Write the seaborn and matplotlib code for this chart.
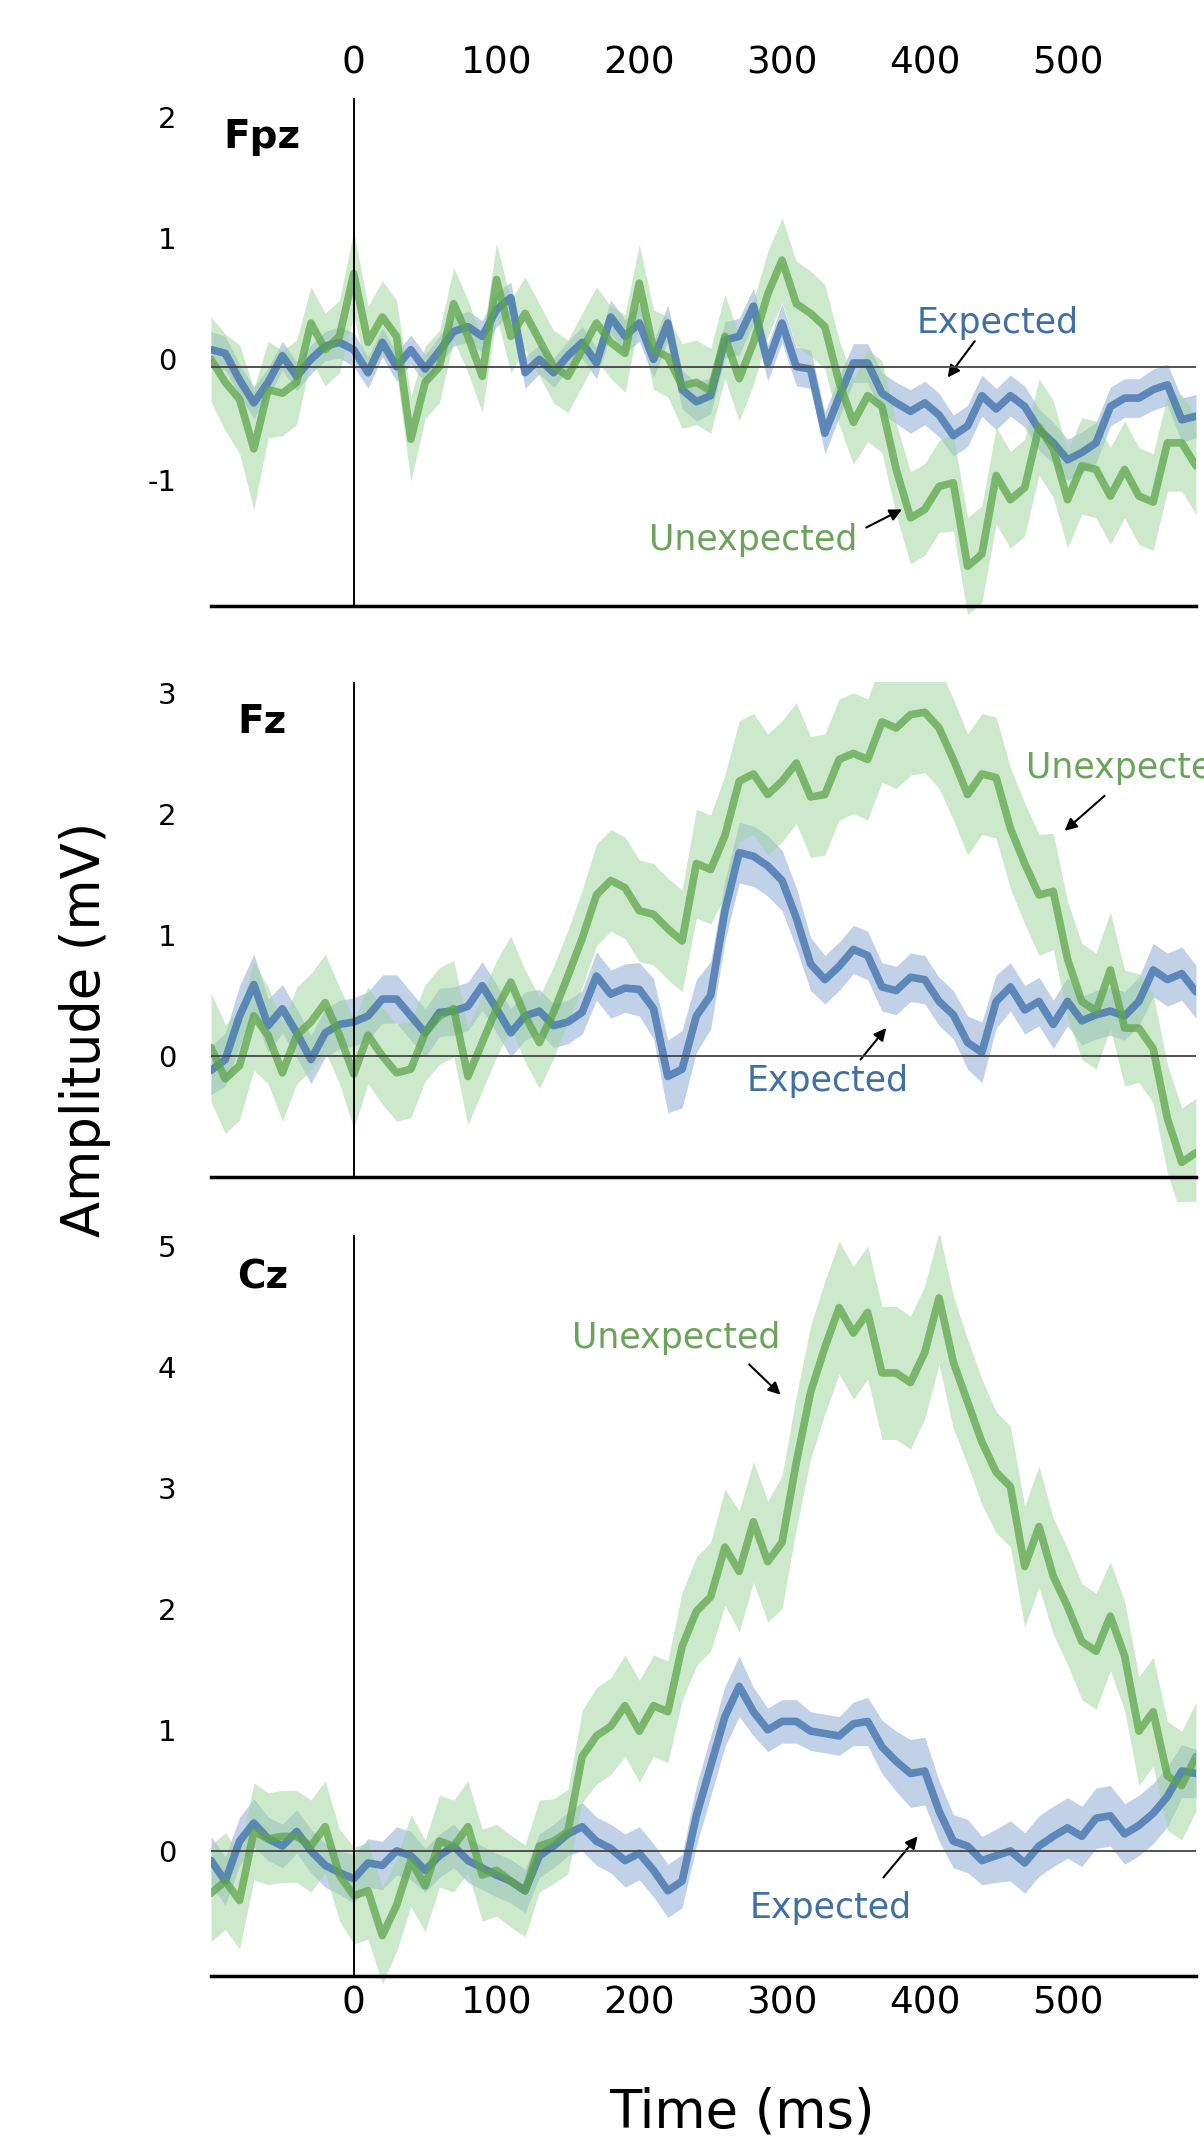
import matplotlib
matplotlib.use("Agg")
import matplotlib.pyplot as plt
import seaborn as sns

# time axis (ms)
TIME = list(range(-100, 600, 10))

# mean amplitude (mV) per electrode and condition
FPZ_EXPECTED = [
    0.14, 0.11, -0.11, -0.30, -0.13, 0.09, -0.08, 0.06, 0.17, 0.20,
    0.14, -0.05, 0.20, 0.00, 0.14, -0.02, 0.13, 0.29, 0.33, 0.25,
    0.47, 0.57, -0.05, 0.06, -0.05, 0.09, 0.20, 0.03, 0.41, 0.25,
    0.36, 0.06, 0.36, -0.19, -0.29, -0.24, 0.22, 0.25, 0.50, 0.03,
    0.36, 0.00, -0.02, -0.55, -0.25, 0.03, 0.03, -0.22, -0.30, -0.37,
    -0.30, -0.40, -0.57, -0.49, -0.24, -0.35, -0.24, -0.33, -0.52, -0.63,
    -0.77, -0.71, -0.63, -0.33, -0.26, -0.26, -0.19, -0.15, -0.44, -0.41,
]
FPZ_UNEXPECTED = [
    0.06, -0.13, -0.27, -0.68, -0.19, -0.22, -0.13, 0.36, 0.14, 0.25,
    0.77, 0.20, 0.41, 0.25, -0.60, -0.13, 0.00, 0.52, 0.25, -0.08,
    0.72, 0.25, 0.44, 0.22, 0.00, -0.08, 0.14, 0.36, 0.20, 0.11,
    0.69, 0.14, 0.08, -0.16, -0.13, -0.20, 0.25, -0.10, 0.20, 0.60,
    0.88, 0.52, 0.44, 0.33, -0.13, -0.46, -0.24, -0.33, -0.85, -1.25,
    -1.18, -0.99, -0.96, -1.65, -1.55, -0.90, -1.10, -1.00, -0.50, -0.68,
    -1.10, -0.82, -0.85, -1.07, -0.85, -1.07, -1.12, -0.63, -0.63, -0.82,
]
FZ_EXPECTED = [
    -0.12, -0.03, 0.33, 0.59, 0.25, 0.39, 0.19, -0.03, 0.19, 0.26,
    0.28, 0.33, 0.47, 0.47, 0.33, 0.19, 0.36, 0.37, 0.41, 0.58,
    0.39, 0.19, 0.33, 0.37, 0.25, 0.28, 0.36, 0.66, 0.51, 0.56,
    0.55, 0.39, -0.17, -0.11, 0.33, 0.50, 1.20, 1.68, 1.65, 1.57,
    1.45, 1.14, 0.76, 0.63, 0.74, 0.88, 0.83, 0.57, 0.54, 0.65,
    0.63, 0.45, 0.34, 0.11, 0.03, 0.45, 0.57, 0.38, 0.45, 0.26,
    0.45, 0.29, 0.34, 0.37, 0.33, 0.45, 0.71, 0.63, 0.68, 0.53,
]
FZ_UNEXPECTED = [
    0.07, -0.19, -0.08, 0.33, 0.17, -0.14, 0.17, 0.28, 0.44, 0.17,
    -0.15, 0.17, 0.00, -0.14, -0.11, 0.19, 0.33, 0.39, -0.17, 0.11,
    0.39, 0.61, 0.33, 0.11, 0.36, 0.66, 0.97, 1.33, 1.45, 1.39,
    1.20, 1.17, 1.05, 0.95, 1.59, 1.54, 1.82, 2.27, 2.33, 2.16,
    2.27, 2.42, 2.14, 2.16, 2.45, 2.50, 2.45, 2.76, 2.71, 2.82,
    2.84, 2.71, 2.45, 2.16, 2.33, 2.30, 1.88, 1.59, 1.33, 1.36,
    0.80, 0.45, 0.37, 0.71, 0.23, 0.23, 0.06, -0.52, -0.88, -0.80,
]
CZ_EXPECTED = [
    -0.08, -0.25, 0.08, 0.23, 0.10, 0.04, 0.16, 0.00, -0.12, -0.18,
    -0.23, -0.10, -0.12, 0.00, -0.04, -0.16, -0.04, 0.04, -0.08, -0.14,
    -0.20, -0.25, -0.33, -0.04, 0.04, 0.14, 0.20, 0.08, 0.02, -0.08,
    -0.02, -0.16, -0.33, -0.25, 0.29, 0.70, 1.11, 1.36, 1.15, 1.00,
    1.07, 1.07, 0.99, 0.97, 0.95, 1.05, 1.07, 0.86, 0.74, 0.64,
    0.66, 0.33, 0.08, 0.04, -0.08, -0.04, 0.00, -0.10, 0.04, 0.12,
    0.19, 0.12, 0.27, 0.29, 0.14, 0.21, 0.31, 0.45, 0.66, 0.64,
]
CZ_UNEXPECTED = [
    -0.35, -0.25, -0.41, 0.16, 0.10, 0.12, 0.12, 0.04, 0.20, -0.20,
    -0.37, -0.33, -0.70, -0.45, -0.08, -0.29, 0.08, 0.04, 0.20, -0.20,
    -0.16, -0.25, -0.33, 0.04, 0.08, 0.16, 0.78, 0.95, 1.03, 1.20,
    0.99, 1.20, 1.15, 1.69, 1.98, 2.10, 2.51, 2.31, 2.72, 2.39,
    2.55, 3.21, 3.79, 4.16, 4.49, 4.28, 4.45, 3.95, 3.95, 3.87,
    4.12, 4.57, 4.04, 3.71, 3.38, 3.13, 3.01, 2.35, 2.68, 2.27,
    2.02, 1.73, 1.65, 1.94, 1.61, 0.99, 1.15, 0.62, 0.54, 0.78,
]

# half-width of the shaded error band (mV)
FPZ_EXPECTED_ERR = [
    0.15, 0.14, 0.13, 0.13, 0.12, 0.12, 0.12, 0.12, 0.12, 0.13,
    0.14, 0.13, 0.12, 0.12, 0.12, 0.12, 0.12, 0.12, 0.13, 0.13,
    0.14, 0.13, 0.13, 0.12, 0.12, 0.12, 0.13, 0.13, 0.14, 0.14,
    0.15, 0.15, 0.15, 0.16, 0.16, 0.15, 0.15, 0.15, 0.15, 0.15,
    0.16, 0.16, 0.16, 0.17, 0.17, 0.16, 0.16, 0.17, 0.17, 0.18,
    0.18, 0.18, 0.17, 0.17, 0.17, 0.17, 0.17, 0.17, 0.17, 0.17,
    0.17, 0.17, 0.17, 0.16, 0.16, 0.16, 0.17, 0.17, 0.18, 0.18,
]
FPZ_UNEXPECTED_ERR = [
    0.35, 0.40, 0.45, 0.50, 0.40, 0.35, 0.35, 0.30, 0.30, 0.30,
    0.35, 0.30, 0.30, 0.30, 0.35, 0.30, 0.30, 0.30, 0.30, 0.30,
    0.30, 0.30, 0.30, 0.30, 0.30, 0.30, 0.30, 0.30, 0.30, 0.32,
    0.32, 0.33, 0.33, 0.35, 0.35, 0.35, 0.35, 0.35, 0.35, 0.35,
    0.35, 0.35, 0.35, 0.35, 0.35, 0.35, 0.38, 0.38, 0.38, 0.38,
    0.38, 0.38, 0.40, 0.40, 0.40, 0.40, 0.40, 0.40, 0.40, 0.40,
    0.40, 0.40, 0.40, 0.40, 0.40, 0.40, 0.40, 0.40, 0.40, 0.40,
]
FZ_EXPECTED_ERR = [
    0.20, 0.22, 0.25, 0.25, 0.22, 0.20, 0.20, 0.20, 0.20, 0.20,
    0.20, 0.20, 0.20, 0.20, 0.20, 0.20, 0.20, 0.20, 0.20, 0.20,
    0.20, 0.20, 0.20, 0.18, 0.18, 0.18, 0.18, 0.20, 0.20, 0.20,
    0.22, 0.25, 0.30, 0.32, 0.30, 0.28, 0.25, 0.25, 0.25, 0.25,
    0.25, 0.25, 0.22, 0.20, 0.20, 0.20, 0.20, 0.20, 0.20, 0.20,
    0.20, 0.20, 0.20, 0.22, 0.25, 0.22, 0.20, 0.20, 0.20, 0.20,
    0.20, 0.20, 0.20, 0.20, 0.20, 0.20, 0.22, 0.22, 0.22, 0.22,
]
FZ_UNEXPECTED_ERR = [
    0.45, 0.45, 0.45, 0.45, 0.40, 0.40, 0.40, 0.40, 0.40, 0.40,
    0.45, 0.40, 0.40, 0.40, 0.40, 0.40, 0.40, 0.40, 0.40, 0.40,
    0.40, 0.38, 0.38, 0.38, 0.38, 0.38, 0.40, 0.42, 0.42, 0.42,
    0.42, 0.42, 0.42, 0.42, 0.45, 0.45, 0.50, 0.50, 0.50, 0.50,
    0.50, 0.50, 0.50, 0.50, 0.50, 0.50, 0.50, 0.50, 0.50, 0.50,
    0.50, 0.50, 0.50, 0.50, 0.50, 0.50, 0.50, 0.50, 0.50, 0.48,
    0.48, 0.48, 0.48, 0.48, 0.48, 0.45, 0.45, 0.45, 0.45, 0.45,
]
CZ_EXPECTED_ERR = [
    0.20, 0.20, 0.20, 0.20, 0.18, 0.18, 0.18, 0.18, 0.18, 0.18,
    0.20, 0.20, 0.20, 0.20, 0.20, 0.18, 0.18, 0.18, 0.18, 0.18,
    0.18, 0.18, 0.18, 0.18, 0.18, 0.18, 0.20, 0.20, 0.20, 0.22,
    0.22, 0.22, 0.22, 0.22, 0.25, 0.25, 0.25, 0.25, 0.20, 0.18,
    0.18, 0.18, 0.16, 0.16, 0.16, 0.18, 0.20, 0.22, 0.25, 0.28,
    0.28, 0.25, 0.22, 0.22, 0.20, 0.22, 0.25, 0.25, 0.25, 0.25,
    0.25, 0.25, 0.25, 0.25, 0.25, 0.25, 0.25, 0.25, 0.22, 0.20,
]
CZ_UNEXPECTED_ERR = [
    0.40, 0.40, 0.40, 0.40, 0.38, 0.38, 0.38, 0.38, 0.38, 0.38,
    0.40, 0.40, 0.40, 0.38, 0.38, 0.38, 0.38, 0.38, 0.38, 0.38,
    0.38, 0.38, 0.38, 0.38, 0.35, 0.35, 0.38, 0.40, 0.40, 0.42,
    0.42, 0.42, 0.42, 0.45, 0.45, 0.45, 0.48, 0.50, 0.50, 0.50,
    0.55, 0.55, 0.55, 0.55, 0.55, 0.55, 0.55, 0.55, 0.55, 0.55,
    0.55, 0.55, 0.55, 0.52, 0.52, 0.50, 0.50, 0.50, 0.50, 0.48,
    0.48, 0.48, 0.48, 0.45, 0.45, 0.45, 0.45, 0.45, 0.45, 0.45,
]

ELECTRODES = ["Fpz", "Fz", "Cz"]
Y_TICKS = [[-1, 0, 1, 2], [0, 1, 2, 3], [0, 1, 2, 3, 4, 5]]

W, H = 1204, 2137
BLUE_LINE, GREEN_LINE = "#4a7ab0", "#5ea54c"
BLUE_FILL, GREEN_FILL = "#8fadd6", "#9dd49a"
BLUE_TEXT, GREEN_TEXT = "#3f6fa3", "#6aa45a"

panels = [
    dict(name="Fpz", exp=FPZ_EXPECTED, unexp=FPZ_UNEXPECTED,
         exp_err=FPZ_EXPECTED_ERR, unexp_err=FPZ_UNEXPECTED_ERR,
         ylim=(-2.2, 2.22), spine=-1.98, top_px=98, tick_shift=0.065,
         exp_lab=(451, 0.36), exp_arrow=((435, 0.21), (416, -0.09)),
         unexp_lab=(280, -1.43), unexp_arrow=((359, -1.33), (384, -1.18)),
         name_xy=(-64, 1.9)),
    dict(name="Fz", exp=FZ_EXPECTED, unexp=FZ_UNEXPECTED,
         exp_err=FZ_EXPECTED_ERR, unexp_err=FZ_UNEXPECTED_ERR,
         ylim=(-1.2, 3.09), spine=-1.0, top_px=682, tick_shift=0.0,
         exp_lab=(332, -0.21), exp_arrow=((355, -0.03), (373, 0.23)),
         unexp_lab=(471, 2.38), unexp_arrow=((526, 2.15), (498, 1.86)),
         name_xy=(-64, 2.76), unexp_left=True),
    dict(name="Cz", exp=CZ_EXPECTED, unexp=CZ_UNEXPECTED,
         exp_err=CZ_EXPECTED_ERR, unexp_err=CZ_UNEXPECTED_ERR,
         ylim=(-1.25, 5.09), spine=-1.03, top_px=1235, tick_shift=0.0,
         exp_lab=(334, -0.47), exp_arrow=((371, -0.22), (395, 0.12)),
         unexp_lab=(226, 4.24), unexp_arrow=((277, 4.02), (299, 3.77)),
         name_xy=(-64, 4.74)),
]
UNIT_PX = 121.0

sns.set_style("white")
plt.rcParams["font.family"] = ["DejaVu Sans"]
plt.rcParams["axes.unicode_minus"] = False
plt.rcParams["text.color"] = "black"
plt.rcParams["xtick.color"] = "black"
plt.rcParams["ytick.color"] = "black"

fig = plt.figure(figsize=(W / 100, H / 100), dpi=100)

for i, p in enumerate(panels):
    lo, hi = p["ylim"]
    height_px = (hi - lo) * UNIT_PX
    bottom_px = p["top_px"] + height_px
    ax = fig.add_axes([211 / W, 1 - bottom_px / H, 985 / W, height_px / H])

    exp_lo = [m - e for m, e in zip(p["exp"], p["exp_err"])]
    exp_hi = [m + e for m, e in zip(p["exp"], p["exp_err"])]
    un_lo = [m - e for m, e in zip(p["unexp"], p["unexp_err"])]
    un_hi = [m + e for m, e in zip(p["unexp"], p["unexp_err"])]

    ax.fill_between(TIME, exp_lo, exp_hi, color=BLUE_FILL, alpha=0.55, lw=0, zorder=1)
    ax.fill_between(TIME, un_lo, un_hi, color=GREEN_FILL, alpha=0.5, lw=0, zorder=2)
    sns.lineplot(x=TIME, y=p["exp"], color=BLUE_LINE, alpha=0.85, lw=5.5, ax=ax, zorder=3)
    sns.lineplot(x=TIME, y=p["unexp"], color=GREEN_LINE, alpha=0.75, lw=5.5, ax=ax, zorder=4)

    ax.axhline(0, color="#444444", lw=1.3, zorder=5)
    frac = (p["spine"] - lo) / (hi - lo)
    ax.axvline(0, ymin=frac, ymax=1, color="black", lw=1.4, zorder=5)

    ax.set_xlim(-100, 590)
    ax.set_ylim(lo, hi)
    for side in ["top", "right", "left"]:
        ax.spines[side].set_visible(False)
    ax.spines["bottom"].set_position(("data", p["spine"]))
    ax.spines["bottom"].set_linewidth(2.5)
    ax.spines["bottom"].set_color("black")

    ax.set_yticks([v + p["tick_shift"] for v in Y_TICKS[i]])
    ax.set_yticklabels([str(v) for v in Y_TICKS[i]])
    ax.tick_params(axis="y", length=0, pad=25, labelsize=21)
    ax.set_xticks([0, 100, 200, 300, 400, 500])
    if i == 0:
        ax.tick_params(axis="x", length=0, top=True, labeltop=True,
                       bottom=False, labelbottom=False, pad=12, labelsize=27)
    elif i == 2:
        ax.tick_params(axis="x", length=0, pad=7, labelsize=27)
    else:
        ax.tick_params(axis="x", length=0, labelbottom=False)
    ax.set_xlabel("")
    ax.set_ylabel("")

    ax.text(*p["name_xy"], p["name"], fontsize=28, fontweight="bold",
            ha="center", va="center")

    ax.text(*p["exp_lab"], "Expected", color=BLUE_TEXT, fontsize=25,
            ha="center", va="center")
    ax.annotate("", xy=p["exp_arrow"][1], xytext=p["exp_arrow"][0],
                arrowprops=dict(arrowstyle="-|>", color="black", lw=1.5,
                                mutation_scale=18, shrinkA=0, shrinkB=0))
    ha = "left" if p.get("unexp_left") else "center"
    ax.text(*p["unexp_lab"], "Unexpected", color=GREEN_TEXT, fontsize=25,
            ha=ha, va="center")
    ax.annotate("", xy=p["unexp_arrow"][1], xytext=p["unexp_arrow"][0],
                arrowprops=dict(arrowstyle="-|>", color="black", lw=1.5,
                                mutation_scale=18, shrinkA=0, shrinkB=0))

fig.text(85 / W, 1 - 1029 / H, "Amplitude (mV)", rotation=90, fontsize=38,
         ha="center", va="center")
fig.text(742 / W, 1 - 2113 / H, "Time (ms)", fontsize=38, ha="center", va="center")

fig.savefig("out.png", dpi=100)
